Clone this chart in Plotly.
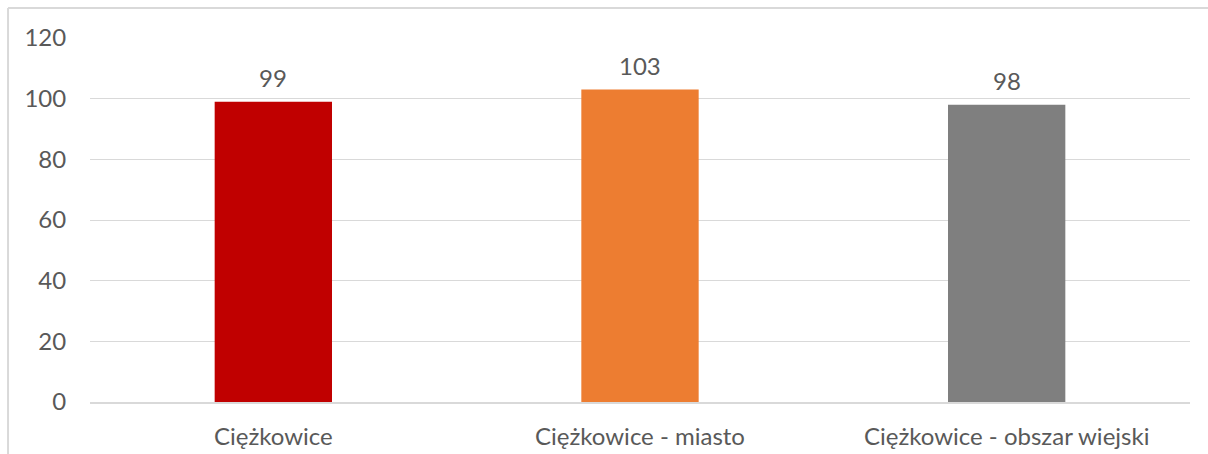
import plotly.graph_objects as go

categories = ["Ciężkowice", "Ciężkowice - miasto", "Ciężkowice - obszar wiejski"]
values = [99, 103, 98]
colors = ["#C00000", "#ED7D31", "#7F7F7F"]
y_ticks = [0, 20, 40, 60, 80, 100, 120]

font_family = "Lato, Carlito, 'Liberation Sans', sans-serif"
text_color = "#595959"
grid_color = "#D9D9D9"

fig = go.Figure()
fig.add_trace(go.Bar(
    x=categories, y=values, marker=dict(color=colors, line=dict(width=0)),
    width=0.32, hoverinfo="skip",
))

for c, v in zip(categories, values):
    fig.add_annotation(x=c, y=v, text=str(v), showarrow=False, yanchor="bottom",
                       yshift=8, font=dict(family=font_family, size=24, color=text_color))

# outer chart border (left and top)
fig.add_shape(type="line", xref="paper", yref="paper", x0=-0.0745, x1=1.03, y0=1.0824, y1=1.0824,
              line=dict(color=grid_color, width=2))
fig.add_shape(type="line", xref="paper", yref="paper", x0=-0.0745, x1=-0.0745, y0=1.0824, y1=-0.3,
              line=dict(color=grid_color, width=2))

fig.update_layout(
    width=1208, height=454,
    margin=dict(l=90, r=18, t=38, b=52),
    paper_bgcolor="white", plot_bgcolor="white",
    showlegend=False,
    font=dict(family=font_family, size=24, color=text_color),
)
fig.update_xaxes(
    showgrid=False, showline=True, linecolor=grid_color, linewidth=2,
    ticks="outside", ticklen=12, tickcolor="rgba(0,0,0,0)", automargin=False,
    tickfont=dict(family=font_family, size=24, color=text_color),
)
fig.update_yaxes(
    range=[0, 120], tickvals=y_ticks, showgrid=True, gridcolor=grid_color, gridwidth=1,
    zeroline=False, showline=False, automargin=False,
    ticks="outside", ticklen=18, tickcolor="rgba(0,0,0,0)",
    tickfont=dict(family=font_family, size=24, color=text_color),
)

fig.write_html(
    "out.html",
    config={"displayModeBar": False},
    post_script="document.body.style.margin='0';document.body.style.overflow='hidden';"
                "document.documentElement.style.overflow='hidden';",
)
